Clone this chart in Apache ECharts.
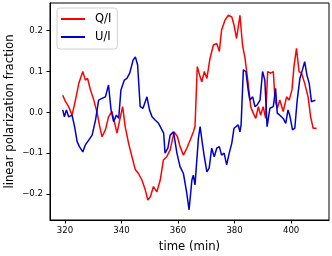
<!DOCTYPE html>
<html><head><meta charset="utf-8">
<script src="https://cdn.jsdelivr.net/npm/echarts@6/dist/echarts.min.js"></script>
<style>html,body{margin:0;padding:0;background:#fff}#c{width:332px;height:256px}</style>
</head><body><div id="c"></div>
<script>
const xTicks = [320, 340, 360, 380, 400];
const yTicks = [-0.2, -0.1, 0.0, 0.1, 0.2];
const seriesNames = ['Q/I', 'U/I'];
const qTime = [319.2,320.2,321.3,322.5,323.7,324.9,326.3,327.2,328.0,329.0,330.2,331.4,332.3,333.1,334.3,335.4,336.6,337.6,338.4,339.6,340.4,341.3,342.5,343.7,344.9,346.0,347.2,348.4,349.3,350.2,351.3,352.5,353.7,354.8,356.0,357.2,358.6,359.8,360.7,361.9,363.1,364.3,365.4,366.0,366.8,367.8,368.4,369.3,370.2,371.3,372.5,373.7,374.6,375.4,376.6,377.8,379.0,379.8,380.7,381.9,382.8,383.7,384.8,385.7,386.6,387.5,388.4,389.2,390.1,391.0,391.7,392.7,393.7,394.3,395.1,396.0,397.2,398.4,399.3,400.3,401.0,401.9,402.8,403.7,404.8,406.0,406.9,407.8,409.0];
const qVals = [0.042,0.026,0.014,-0.007,0.03,0.071,0.1,0.079,0.083,0.055,0.03,-0.002,-0.035,-0.06,-0.043,-0.011,0.002,-0.027,-0.051,-0.011,0.014,-0.035,-0.076,-0.109,-0.141,-0.15,-0.166,-0.19,-0.215,-0.207,-0.182,-0.195,-0.166,-0.117,-0.109,-0.092,-0.048,-0.06,-0.084,-0.105,-0.088,-0.068,-0.048,-0.035,0.112,0.087,0.075,0.1,0.083,0.132,0.165,0.169,0.149,0.202,0.226,0.238,0.234,0.214,0.181,0.238,0.165,0.132,0.071,0.014,-0.002,-0.015,0.014,-0.007,0.014,-0.015,0.1,0.096,0.1,0.03,0.01,0.03,0.002,0.038,0.03,0.055,0.112,0.157,0.1,0.096,0.071,0.038,-0.011,-0.039,-0.039];
const uTime = [319.2,319.8,320.5,321.3,322.5,323.4,324.3,325.1,326.3,327.2,328.4,329.6,330.8,331.9,333.1,334.3,335.4,336.3,337.2,338.2,339.0,339.8,341.0,341.9,342.9,344.1,344.9,345.7,346.6,347.6,348.4,349.0,349.9,350.8,351.9,353.1,354.9,355.4,356.4,357.2,358.4,359.6,360.7,361.9,363.1,363.9,364.9,365.4,366.0,367.2,367.8,368.6,369.3,370.2,371.0,371.9,372.8,373.7,374.6,375.4,376.3,377.2,378.1,379.0,379.8,380.5,381.3,381.9,382.3,383.1,384.0,384.8,385.4,386.4,387.2,388.0,389.0,389.9,390.7,391.5,392.5,393.7,394.5,395.1,396.0,397.2,398.1,398.9,399.5,400.5,401.3,402.1,403.1,404.0,404.8,405.6,406.4,407.2,407.8,408.6];
const uVals = [0.006,-0.011,0.006,-0.011,-0.007,-0.035,-0.072,-0.084,-0.097,-0.08,-0.068,-0.056,-0.019,0.03,0.034,0.038,0.067,0.006,-0.023,-0.007,-0.015,0.055,0.079,0.083,0.096,0.128,0.136,0.116,0.014,0.01,0.026,0.038,0.006,-0.011,-0.019,-0.027,-0.051,-0.1,-0.088,-0.056,-0.048,-0.1,-0.133,-0.15,-0.199,-0.239,-0.166,-0.154,-0.178,-0.064,-0.035,-0.076,-0.109,-0.146,-0.137,-0.088,-0.109,-0.088,-0.084,-0.105,-0.1,-0.129,-0.1,-0.076,-0.039,-0.035,-0.031,-0.048,-0.031,0.104,0.1,0.055,0.03,0.038,0.014,0.018,0.03,0.1,0.079,-0.035,0.01,0.014,0.059,-0.002,-0.007,-0.015,-0.027,0.006,-0.007,-0.043,-0.039,0.026,0.083,0.104,0.124,0.091,0.071,0.026,0.022,0.03];

const zip = (a, b) => a.map((t, i) => [t, b[i]]);
const font = 'DejaVu Sans';
const chart = echarts.init(document.getElementById('c'), null, {renderer: 'canvas'});
chart.setOption({
  animation: false,
  backgroundColor: '#fff',
  grid: {left: 50, right: 3, top: 3, bottom: 36, containLabel: false, outerBoundsMode: 'none',
         show: true, borderColor: '#000', borderWidth: 1, backgroundColor: 'transparent'},
  legend: {
    orient: 'vertical', left: 57, top: 8,
    data: seriesNames,
    icon: 'rect', itemWidth: 24, itemHeight: 2, itemGap: 4,
    padding: [4, 6, 5, 4],
    backgroundColor: 'rgba(255,255,255,0.8)', borderColor: '#d0d0d0', borderWidth: 1, borderRadius: 3,
    textStyle: {fontFamily: font, fontSize: 11.5, color: '#000', padding: [0, 0, 0, 5], lineHeight: 14}
  },
  xAxis: {
    type: 'value', min: 314.7, max: 413.4,
    name: 'time (min)', nameLocation: 'middle', nameGap: 20.5, nameMoveOverlap: false,
    nameTextStyle: {fontFamily: font, fontSize: 11.7, color: '#000'},
    axisLine: {show: true, onZero: false, lineStyle: {color: '#000', width: 1}},
    axisTick: {show: true, inside: false, length: 3.5, customValues: xTicks, lineStyle: {color: '#000'}},
    axisLabel: {customValues: xTicks, margin: 6, fontFamily: font, fontSize: 8.6, color: '#000'},
    splitLine: {show: false}
  },
  yAxis: {
    type: 'value', min: -0.264, max: 0.268,
    name: 'linear polarization fraction', nameLocation: 'middle', nameGap: 34, nameMoveOverlap: false,
    nameTextStyle: {fontFamily: font, fontSize: 11.7, color: '#000'},
    axisLine: {show: true, onZero: false, lineStyle: {color: '#000', width: 1}},
    axisTick: {show: true, inside: false, length: 3.5, customValues: yTicks, lineStyle: {color: '#000'}},
    axisLabel: {customValues: yTicks, margin: 7, fontFamily: font, fontSize: 8.6, color: '#000',
      formatter: v => v.toFixed(1).replace('-', '\u2212')},
    splitLine: {show: false}
  },
  series: [
    {name: seriesNames[0], type: 'line', data: zip(qTime, qVals), showSymbol: false, symbol: 'none',
     lineStyle: {color: '#ff0000', width: 1.5}, itemStyle: {color: '#ff0000'}},
    {name: seriesNames[1], type: 'line', data: zip(uTime, uVals), showSymbol: false, symbol: 'none',
     lineStyle: {color: '#0000cc', width: 1.5}, itemStyle: {color: '#0000cc'}}
  ]
});
</script></body></html>
